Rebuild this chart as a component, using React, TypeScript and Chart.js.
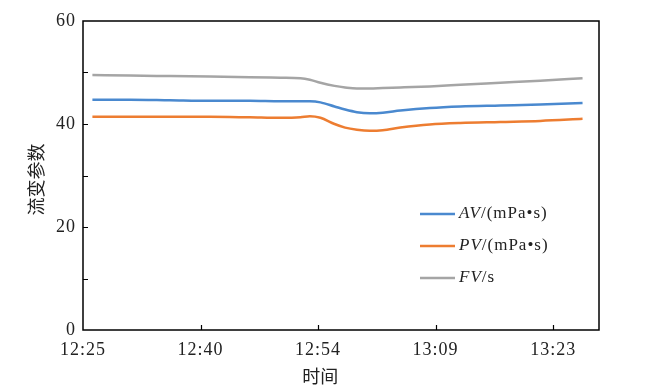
import React, { useEffect, useRef } from "react";
import { Chart, registerables } from "chart.js";

Chart.register(...registerables);

// Tick labels on the time axis (evenly spaced in the source chart)
const timeLabels = ["12:25", "12:40", "12:54", "13:09", "13:23"];
const timeTickPositions = [0, 10, 20, 30, 40];

// Sample positions along the time axis (same units as timeTickPositions)
const sampleX = [0.8, 4.0, 7.4, 10.8, 14.2, 16.8, 18.5, 19.3, 20.2, 21.4, 22.3, 23.3, 24.4, 25.5, 27.0, 29.5, 32.1, 35.5, 38.9, 42.5];

// Series values
const avValues = [44.7, 44.7, 44.6, 44.5, 44.5, 44.4, 44.4, 44.4, 44.2, 43.4, 42.8, 42.3, 42.1, 42.2, 42.6, 43.1, 43.4, 43.6, 43.8, 44.1];
const pvValues = [41.4, 41.4, 41.4, 41.4, 41.3, 41.2, 41.3, 41.5, 41.2, 40.0, 39.3, 38.9, 38.7, 38.8, 39.3, 39.9, 40.2, 40.4, 40.6, 41.0];
const fvValues = [49.5, 49.4, 49.3, 49.2, 49.1, 49.0, 48.9, 48.6, 48.0, 47.4, 47.1, 46.9, 46.9, 47.0, 47.1, 47.3, 47.6, 48.0, 48.4, 48.9];

const seriesNames = ["AV", "PV", "FV"];
const seriesUnits = ["/(mPa•s)", "/(mPa•s)", "/s"];
const seriesColors = ["#4A89CF", "#ED7D31", "#A5A5A5"];

const yTitle = "流变参数";
const xTitle = "时间";

const SERIF = "'Liberation Serif', 'DejaVu Serif', 'Noto Sans CJK SC', serif";
const CJK = "'Noto Sans CJK SC', serif";

const spacingPlugin = {
  id: "spacing",
  beforeDraw(chart: any) {
    (chart.ctx as any).letterSpacing = "1px";
  },
};

const decorPlugin = {
  id: "decor",
  afterDraw(chart: any) {
    const { ctx, chartArea } = chart;
    const { left, right, top, bottom } = chartArea;
    const xs = chart.scales.x;
    const ys = chart.scales.y;
    ctx.save();
    // frame
    ctx.strokeStyle = "#000";
    ctx.lineWidth = 1.5;
    ctx.strokeRect(left, top, right - left, bottom - top);
    // inward ticks
    ctx.lineWidth = 1.2;
    ctx.beginPath();
    for (let v = 10; v < 60; v += 10) {
      const py = Math.round(ys.getPixelForValue(v)) + 0.5;
      ctx.moveTo(left, py);
      ctx.lineTo(left + 5, py);
    }
    timeTickPositions.forEach((v) => {
      if (v === 0) return;
      const px = Math.round(xs.getPixelForValue(v)) + 0.5;
      ctx.moveTo(px, bottom);
      ctx.lineTo(px, bottom - 5);
    });
    ctx.stroke();

    // legend
    (ctx as any).letterSpacing = "1px";
    const lx = left + 337;
    const ly0 = top + 193;
    const gap = 32;
    seriesNames.forEach((name, i) => {
      const y = ly0 + i * gap;
      ctx.strokeStyle = seriesColors[i];
      ctx.lineWidth = 2.5;
      ctx.beginPath();
      ctx.moveTo(lx, y);
      ctx.lineTo(lx + 35, y);
      ctx.stroke();
      ctx.fillStyle = "#222";
      ctx.textBaseline = "middle";
      ctx.textAlign = "left";
      ctx.font = `italic 17px ${SERIF}`;
      ctx.fillText(name, lx + 39, y);
      const w = ctx.measureText(name).width;
      ctx.font = `17px ${SERIF}`;
      ctx.fillText(seriesUnits[i], lx + 39 + w, y);
    });

    // axis titles
    (ctx as any).letterSpacing = "0px";
    ctx.fillStyle = "#222";
    ctx.font = `18px ${CJK}`;
    ctx.textAlign = "center";
    ctx.textBaseline = "middle";
    ctx.fillText(xTitle, left + (right - left) * 0.46, bottom + 46);
    ctx.save();
    ctx.translate(36, (top + bottom) / 2 + 4);
    ctx.rotate(-Math.PI / 2);
    ctx.fillText(yTitle, 0, 0);
    ctx.restore();
    ctx.restore();
  },
};

export default function App() {
  const ref = useRef<HTMLCanvasElement>(null);
  useEffect(() => {
    if (!ref.current) return;
    const mk = (i: number, vals: number[]) => ({
      label: seriesNames[i] + seriesUnits[i],
      data: sampleX.map((x, k) => ({ x, y: vals[k] })),
      borderColor: seriesColors[i],
      backgroundColor: seriesColors[i],
      borderWidth: 2.5,
      pointRadius: 0,
      cubicInterpolationMode: "monotone" as const,
      fill: false,
    });
    const chart = new Chart(ref.current, {
      type: "line",
      data: {
        datasets: [mk(0, avValues), mk(1, pvValues), mk(2, fvValues)],
      },
      options: {
        responsive: false,
        animation: false,
        layout: { padding: { left: 0, right: 51, top: 21, bottom: 0 } },
        plugins: { legend: { display: false }, tooltip: { enabled: false } },
        scales: {
          x: {
            type: "linear",
            min: 0,
            max: 43.9,
            grid: { display: false, drawTicks: false },
            border: { display: false },
            afterBuildTicks: (s: any) => {
              s.ticks = timeTickPositions.map((v) => ({ value: v }));
            },
            afterFit: (s: any) => {
              s.height = 61;
            },
            ticks: {
              autoSkip: false,
              maxRotation: 0,
              padding: 9,
              color: "#222",
              font: { family: SERIF, size: 18 },
              callback: (v: any) => {
                const i = timeTickPositions.indexOf(Number(v));
                return i >= 0 ? timeLabels[i] : "";
              },
            },
          },
          y: {
            min: 0,
            max: 60,
            grid: { display: false, drawTicks: false },
            border: { display: false },
            afterFit: (s: any) => {
              s.width = 83;
            },
            ticks: {
              stepSize: 10,
              padding: 7,
              color: "#222",
              font: { family: SERIF, size: 18 },
              callback: (v: any) => (Number(v) % 20 === 0 ? String(v) : ""),
            },
          },
        },
      },
      plugins: [spacingPlugin, decorPlugin],
    });
    return () => chart.destroy();
  }, []);
  return (
    <div style={{ position: "absolute", left: 0, top: 0, width: 650, height: 391, background: "#fff" }}>
      <canvas ref={ref} width={650} height={391} />
    </div>
  );
}
